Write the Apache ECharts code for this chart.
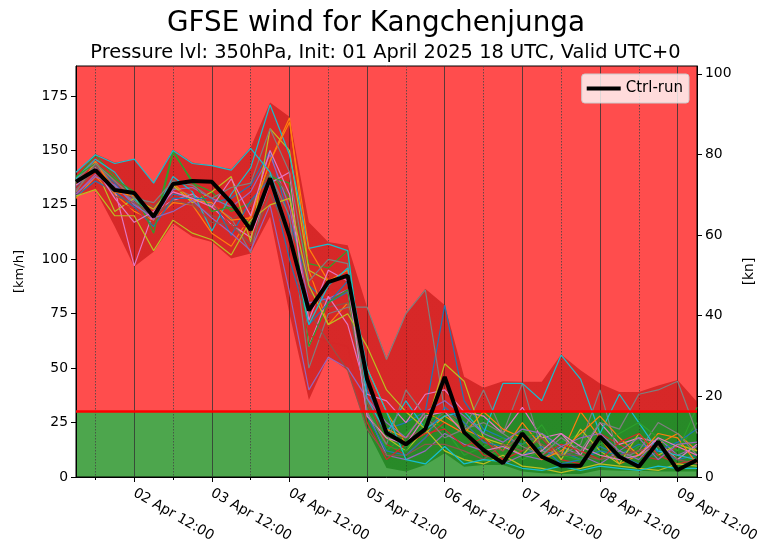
<!DOCTYPE html>
<html><head><meta charset="utf-8">
<script src="https://cdn.jsdelivr.net/npm/echarts@6/dist/echarts.min.js"></script>
<style>html,body{margin:0;padding:0;background:#fff}#c{width:771px;height:554px}</style>
</head><body><div id="c"></div>
<script>
const categories = ["01 Apr 18:00","02 Apr 00:00","02 Apr 06:00","02 Apr 12:00","02 Apr 18:00","03 Apr 00:00","03 Apr 06:00","03 Apr 12:00","03 Apr 18:00","04 Apr 00:00","04 Apr 06:00","04 Apr 12:00","04 Apr 18:00","05 Apr 00:00","05 Apr 06:00","05 Apr 12:00","05 Apr 18:00","06 Apr 00:00","06 Apr 06:00","06 Apr 12:00","06 Apr 18:00","07 Apr 00:00","07 Apr 06:00","07 Apr 12:00","07 Apr 18:00","08 Apr 00:00","08 Apr 06:00","08 Apr 12:00","08 Apr 18:00","09 Apr 00:00","09 Apr 06:00","09 Apr 12:00","09 Apr 18:00"];
const ctrlRun = [135.6,141,131.8,130.5,119.6,134.6,136,135.6,126,113.5,137.2,110.5,76.5,89.5,92.5,45,20.2,15,22,46,20.5,12.4,6.4,20,9.3,5.2,5.2,18.5,9.3,4.7,16.2,3.2,7.8];
const envMax = [140,148.5,144.5,146,135,150.5,144.5,143,141.5,151.5,172,165.5,117,108,106.5,78,54.5,75,86.5,79,46,41,44,43.8,43.8,56.3,49,43,39,39,42,44.6,34.6];
const envMin = [128.8,131.8,115,96.6,103.5,116.5,110.4,108,100.4,102.7,119.5,75,35.4,55.3,49,21.6,4.1,2.5,5.5,10.9,4.7,5.5,5.5,2.5,1.7,1.4,1.4,3.2,2.9,2.9,2.5,2.5,2.5];
const m01 = [133,143,135,125,120,130,128,126,128,134,150,118,88,80,85,40,22,25,30,79,35,22,18,15,20,12,8,14,10,15,12,8,10];
const m02 = [128,138,130,122,118,126,125,112,106,120,145,165,95,70,80,50,30,15,20,28,22,18,12,25,14,10,30,18,6,10,15,20,12];
const m03 = [137,148,138,128,115,150,135,131,122,126,140,128,98,96,104,35,12,20,28,22,10,14,18,8,12,16,20,10,8,14,18,12,25];
const m04 = [131,140,128,120,116,128,130,128,120,125,145,130,92,85,88,36,15,10,18,25,20,10,8,12,18,8,6,20,15,10,8,14,10];
const m05 = [130,139,134,126,118,132,133,128,124,131,148,124,80,82,86,30,10,8,12,20,15,12,6,10,8,14,10,6,12,8,18,10,14];
const m06 = [134,143,137,130,124,134,126,120,118,125,140,130,85,78,80,34,20,18,22,30,25,16,12,20,15,10,12,18,10,12,15,10,8];
const m07 = [132,141,132,97,122,127,130,124,116,110,135,140,60,83,70,38,35,25,38,40,30,28,20,32,18,20,10,25,15,18,16,8,15];
const m08 = [136,145,133,127,121,133,129,125,119,103,139,120,50,75,78,78,54,75,86,30,22,40,20,43,12,10,15,40,8,12,25,20,10];
const m09 = [135,142,122,128,123,134,126,131,138,108,160,150,95,90,92,28,18,12,22,52,44,18,15,10,20,8,22,12,6,20,10,15,12];
const m10 = [137,146,140,128,120,138,131,113,130,142,171,148,105,107,104,36,20,35,22,28,30,20,43,43,35,56,45,20,38,25,12,10,8];
const m11 = [129,136,131,124,115,128,128,128,111,127,137,100,70,80,90,28,12,10,18,32,25,16,14,10,14,6,8,12,10,6,12,16,22];
const m12 = [131,145,131,129,121,135,127,126,118,119,145,163,105,90,95,45,22,18,30,25,20,30,22,18,8,12,20,28,18,10,20,18,6];
const m13 = [138,144,137,131,112,149,136,122,124,116,138,135,60,80,86,32,14,12,25,30,22,12,10,15,24,10,8,15,20,25,18,12,32];
const m14 = [133,140,127,123,117,131,132,127,115,115,130,108,65,62,60,25,8,15,20,22,14,18,8,20,10,15,12,8,16,20,10,6,8];
const m15 = [130,138,134,125,119,122,127,119,112,104,125,85,40,55,50,36,25,18,30,35,28,20,16,22,20,14,18,20,12,18,8,15,16];
const m16 = [132,141,129,126,120,127,125,117,116,107,130,110,76,62,49,22,10,10,15,15,12,8,15,12,18,10,10,8,10,12,14,8,6];
const m17 = [134,142,128,117,122,131,128,124,137,120,150,130,72,95,90,28,18,15,28,30,20,12,14,10,12,20,14,10,8,10,18,14,10];
const m18 = [131,144,136,128,126,136,134,128,133,135,160,140,90,100,98,30,15,40,28,18,22,25,20,14,10,18,12,25,22,38,40,44,20];
const m19 = [129,132,120,120,104,118,112,109,102,118,125,128,88,70,75,60,40,30,22,12,8,6,10,5,4,2,4,6,5,4,3,6,5];
const m20 = [140,148,144,146,135,150,144,143,141,151,140,112,70,88,96,50,30,8,6,14,6,8,7,4,3,5,3,5,4,3,5,4,4];
const members = [m01,m02,m03,m04,m05,m06,m07,m08,m09,m10,m11,m12,m13,m14,m15,m16,m17,m18,m19,m20];
const memberColors = ['#1f77b4','#ff7f0e','#2ca02c','#d62728','#9467bd','#8c564b','#e377c2','#7f7f7f','#bcbd22','#17becf'];
const leftTicks = [0,25,50,75,100,125,150,175];
const rightTicks = [0,20,40,60,80,100];
const threshold = 30;
const yMaxKmh = 188.8;
const KMH_PER_KN = 1.852;

const FONT = 'DejaVu Sans';
const RED_BAND = 'rgba(175,3,3,0.5)';
const GREEN_BAND = 'rgba(3,110,3,0.5)';
const chart = echarts.init(document.getElementById('c'), null, {renderer:'canvas'});
const isMajor = (i) => i % 4 === 3;
const isMinor = (i) => i % 4 === 1;
const bandDiff = envMax.map((v,i) => v - envMin[i]);

const series = [];
series.push({
  id:'bg', name:'bg', type:'line', xAxisIndex:1, yAxisIndex:0, data: ctrlRun, showSymbol:false, silent:true,
  lineStyle:{width:0, opacity:0}, z:0,
  markArea:{ z:0, silent:true, data:[
    [{yAxis:0, itemStyle:{color:'#4da64d', opacity:1}}, {yAxis:threshold}],
    [{yAxis:threshold, itemStyle:{color:'#ff4d4d', opacity:1}}, {yAxis:yMaxKmh}]
  ]}
});
series.push({id:'envBase', name:'envBase', type:'line', data: envMin, stack:'env', showSymbol:false, silent:true, lineStyle:{width:0, opacity:0}, z:3});
series.push({id:'envBand', name:'envBand', type:'line', data: bandDiff, stack:'env', showSymbol:false, silent:true, lineStyle:{width:0, opacity:0}, areaStyle:{color:RED_BAND, opacity:1}, z:3});
members.forEach((m, k) => {
  series.push({name:'m'+(k+1), type:'line', data:m, showSymbol:false, silent:true,
    lineStyle:{width:1.2, color: memberColors[k % 10]}, itemStyle:{color: memberColors[k % 10]}, z:4});
});
series.push({id:'thr', name:'thr', type:'line', data: ctrlRun, showSymbol:false, silent:true, lineStyle:{width:0, opacity:0}, z:5,
  markLine:{silent:true, symbol:['none','none'], label:{show:false}, lineStyle:{color:'#ff0000', width:2.5, type:'solid'}, data:[{yAxis:threshold}]}});
series.push({name:'Ctrl-run', type:'line', data: ctrlRun, showSymbol:false, silent:true,
  lineStyle:{width:4, color:'#000'}, itemStyle:{color:'#000'}, z:6});

chart.setOption({
  animation:false,
  backgroundColor:'#fff',
  textStyle:{fontFamily:FONT},
  title:[
    {text:'GFSE wind for Kangchenjunga', left:167, top:10, padding:0,
     textStyle:{fontFamily:FONT, fontSize:27.8, fontWeight:'normal', color:'#000'}},
    {text:'Pressure lvl: 350hPa, Init: 01 April 2025 18 UTC, Valid UTC+0', left:'center', top:43, padding:0,
     textStyle:{fontFamily:FONT, fontSize:19.4, fontWeight:'normal', color:'#000'}}
  ],
  legend:{data:['Ctrl-run'], right:82, top:74, orient:'vertical',
    backgroundColor:'rgba(255,255,255,0.8)', borderColor:'#cccccc', borderWidth:1, borderRadius:3,
    padding:[7,6,7,5], itemWidth:34, itemHeight:4, itemGap:4,
    icon:'rect', textStyle:{fontFamily:FONT, fontSize:15, color:'#000'}},
  grid:{left:76, right:74, top:66, bottom:77, show:true, borderColor:'#000', borderWidth:1, backgroundColor:'transparent', z:2},
  xAxis:[
    {type:'category', data:categories, boundaryGap:false, z:2,
     axisLine:{show:true, lineStyle:{color:'#000', width:1}},
     axisTick:{show:true, interval:(i)=>isMajor(i), length:5, lineStyle:{color:'#000'}},
     axisLabel:{show:true, interval:(i)=>isMajor(i), rotate:-30, margin:15, fontFamily:FONT, fontSize:13.9, color:'#000'},
     splitLine:{show:true, interval:(i)=>isMajor(i), lineStyle:{color:'#333', width:0.8, type:'solid'}}},
    {type:'category', data:categories, boundaryGap:false, position:'bottom', z:2,
     axisLine:{show:false},
     axisTick:{show:true, interval:(i)=>isMinor(i), length:3, lineStyle:{color:'#000'}},
     axisLabel:{show:false},
     splitLine:{show:true, interval:(i)=>isMinor(i), lineStyle:{color:'#444', width:0.8, type:[1.5,1.5]}}}
  ],
  yAxis:[
    {type:'value', min:0, max:yMaxKmh, position:'left', z:2,
     name:'[km/h]', nameLocation:'middle', nameGap:50, nameRotate:90,
     nameTextStyle:{fontFamily:FONT, fontSize:13, color:'#000'},
     axisLine:{show:true, lineStyle:{color:'#000'}},
     axisTick:{show:true, length:5, customValues:leftTicks, lineStyle:{color:'#000'}},
     axisLabel:{customValues:leftTicks, margin:8, fontFamily:FONT, fontSize:13.9, color:'#000'},
     splitLine:{show:false}},
    {type:'value', min:0, max:yMaxKmh / KMH_PER_KN, position:'right', z:2,
     name:'[kn]', nameLocation:'middle', nameGap:42, nameRotate:90,
     nameTextStyle:{fontFamily:FONT, fontSize:13.9, color:'#000'},
     axisLine:{show:true, lineStyle:{color:'#000'}},
     axisTick:{show:true, length:5, customValues:rightTicks, lineStyle:{color:'#000'}},
     axisLabel:{customValues:rightTicks, margin:8, fontFamily:FONT, fontSize:13.9, color:'#000'},
     splitLine:{show:false}}
  ],
  series: series
});

// colour the envelope red above the threshold and green below it, using the axis scale
const yTop = chart.convertToPixel({yAxisIndex:0}, yMaxKmh);
const yBot = chart.convertToPixel({yAxisIndex:0}, 0);
const yThr = chart.convertToPixel({yAxisIndex:0}, threshold);
const f = (yThr - yTop) / (yBot - yTop);
const grad = new echarts.graphic.LinearGradient(0, yTop, 0, yBot, [
  {offset:0, color:RED_BAND},{offset:f, color:RED_BAND},{offset:f, color:GREEN_BAND},{offset:1, color:GREEN_BAND}
], true);
chart.setOption({series:[{id:'envBand', areaStyle:{color:grad, opacity:1}}]});
</script></body></html>
